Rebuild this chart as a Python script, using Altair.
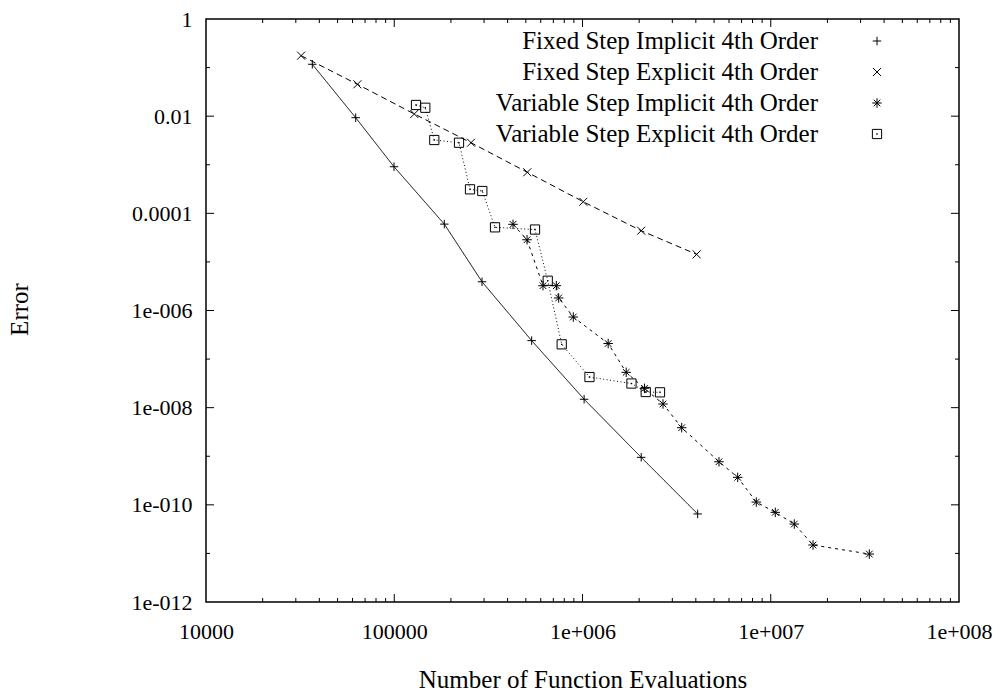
import math
import altair as alt
import pandas as pd

# ---------------- data ----------------
fi_x = [36700, 62400, 99700, 184500, 292600, 537000, 1020000, 2050000, 4090000]
fi_y = [0.117, 9.3e-3, 9.1e-4, 6.0e-5, 3.9e-6, 2.4e-7, 1.49e-8, 9.5e-10, 6.5e-11]

fe_x = [32000, 63700, 127800, 255800, 509000, 1010000, 2050000, 4040000]
fe_y = [0.176, 0.0453, 0.0111, 2.84e-3, 7.0e-4, 1.73e-4, 4.39e-5, 1.43e-5]

vi_x = [427400, 507300, 616700, 725800, 747300, 893600, 1369000, 1707000, 2134000,
        2677000, 3365000, 5310000, 6675000, 8380000, 10570000, 13340000, 16770000, 33390000]
vi_y = [5.94e-5, 2.86e-5, 3.24e-6, 3.24e-6, 1.81e-6, 7.34e-7, 2.09e-7, 5.34e-8, 2.5e-8,
        1.19e-8, 3.87e-9, 7.7e-10, 3.68e-10, 1.14e-10, 7.0e-11, 4.02e-11, 1.49e-11, 9.7e-12]

ve_x = [130500, 146200, 163200, 220800, 252600, 293600, 343000, 559500, 653500,
        775500, 1089000, 1820000, 2167000, 2580000]
ve_y = [0.0170, 0.0149, 3.23e-3, 2.84e-3, 3.12e-4, 2.88e-4, 5.15e-5, 4.64e-5, 4.1e-6,
        2.01e-7, 4.27e-8, 3.14e-8, 2.1e-8, 2.07e-8]

series_names = ["Fixed Step Implicit 4th Order", "Fixed Step Explicit 4th Order",
                "Variable Step Implicit 4th Order", "Variable Step Explicit 4th Order"]

x_major = [1e4, 1e5, 1e6, 1e7, 1e8]
x_major_labels = ["10000", "100000", "1e+006", "1e+007", "1e+008"]
x_minor = [m * 10 ** k for k in range(4, 8) for m in range(2, 10)]
y_major = [1, 1e-2, 1e-4, 1e-6, 1e-8, 1e-10, 1e-12]
y_major_labels = ["1", "0.01", "0.0001", "1e-006", "1e-008", "1e-010", "1e-012"]
y_minor = [1e-1, 1e-3, 1e-5, 1e-7, 1e-9, 1e-11]

# ---------------- styling ----------------
W, H = 753, 583
FONT = "Liberation Serif"
TICK_FS = 22
TEXT_FS = 25
MAJOR, MINOR = 8, 4

PLUS = "M-1,0L1,0M0,-1L0,1"
CROSS = "M-1,-1L1,1M-1,1L1,-1"
STAR = "M-1,0L1,0M0,-1L0,1M-0.7,-0.7L0.7,0.7M-0.7,0.7L0.7,-0.7"
SQUARE = "M-1,-1L1,-1L1,1L-1,1Z"

styles = [
    dict(shape=PLUS, size=72, dash=[1, 0]),
    dict(shape=CROSS, size=64, dash=[6, 4]),
    dict(shape=STAR, size=90, dash=[3, 4]),
    dict(shape=SQUARE, size=85, dash=[1, 2.5]),
]


def label_expr(values, labels):
    expr = "''"
    for v, l in reversed(list(zip(values, labels))):
        expr = f"abs(log(datum.value)/LN10 - ({math.log10(v):.4f})) < 0.01 ? '{l}' : {expr}"
    return expr


xscale = alt.Scale(type="log", domain=[1e4, 1e8], nice=False)
yscale = alt.Scale(type="log", domain=[1e-12, 1], nice=False)

axis_common = dict(ticks=False, tickSize=0, domain=False, grid=False, labelFont=FONT,
                   labelFontSize=TICK_FS, labelColor="black", titleFont=FONT,
                   titleFontSize=TEXT_FS, titleColor="black", titleFontWeight="normal",
                   labelOverlap=False, labelFlush=False)

x_axis = alt.Axis(values=x_major, labelExpr=label_expr(x_major, x_major_labels),
                  title="Number of Function Evaluations", labelPadding=19,
                  titleY=77, titleBaseline="middle", **axis_common)
y_axis = alt.Axis(values=y_major, labelExpr=label_expr(y_major, y_major_labels),
                  title="Error", labelPadding=14, titleX=-187, titleY=290,
                  titleAngle=-90, titleBaseline="middle", titleAlign="center", **axis_common)


def X(field):
    return alt.X(field, scale=xscale, axis=x_axis)


def Y(field):
    return alt.Y(field, scale=yscale, axis=y_axis)


all_x = [fi_x, fe_x, vi_x, ve_x]
all_y = [fi_y, fe_y, vi_y, ve_y]

layers = []
for i, (name, xs, ys, st) in enumerate(zip(series_names, all_x, all_y, styles)):
    df = pd.DataFrame({"x": xs, "y": ys, "idx": list(range(len(xs)))})
    line = alt.Chart(df).mark_line(color="black", strokeWidth=1, strokeDash=st["dash"]).encode(
        x=X("x:Q"), y=Y("y:Q"), order="idx:Q")
    pts = alt.Chart(df).mark_point(shape=st["shape"], size=st["size"], filled=False,
                                   color="black", strokeWidth=1, opacity=1).encode(
        x=X("x:Q"), y=Y("y:Q"))
    layers += [line, pts]
    if i == 3:
        dots = alt.Chart(df).mark_point(shape="square", size=2, filled=True, color="black",
                                        opacity=1).encode(x=X("x:Q"), y=Y("y:Q"))
        layers.append(dots)


# ---------------- inward ticks on all four sides ----------------
def yticks(vals, length):
    df = pd.DataFrame({"y": vals})
    left = alt.Chart(df).mark_rule(color="black", strokeWidth=1).encode(
        y=Y("y:Q"), x=alt.value(0), x2=alt.value(length))
    right = alt.Chart(df).mark_rule(color="black", strokeWidth=1).encode(
        y=Y("y:Q"), x=alt.value(W), x2=alt.value(W - length))
    return [left, right]


def xticks(vals, length):
    df = pd.DataFrame({"x": vals})
    bottom = alt.Chart(df).mark_rule(color="black", strokeWidth=1).encode(
        x=X("x:Q"), y=alt.value(H), y2=alt.value(H - length))
    top = alt.Chart(df).mark_rule(color="black", strokeWidth=1).encode(
        x=X("x:Q"), y=alt.value(0), y2=alt.value(length))
    return [bottom, top]


layers += yticks(y_major[1:-1], MAJOR) + yticks(y_minor, MINOR)
layers += xticks(x_major[1:-1], MAJOR) + xticks(x_minor, MINOR)

# ---------------- key (text then sample symbol, top right) ----------------
KEY_TEXT_X, KEY_SYM_X, KEY_Y0, KEY_DY = 612, 671, 22, 31
for i, (name, st) in enumerate(zip(series_names, styles)):
    kdf = pd.DataFrame({"label": [name]})
    ky = KEY_Y0 + KEY_DY * i
    layers.append(alt.Chart(kdf).mark_text(align="right", baseline="middle", font=FONT,
                                           fontSize=TEXT_FS, color="black").encode(
        text="label:N", x=alt.value(KEY_TEXT_X), y=alt.value(ky)))
    layers.append(alt.Chart(kdf).mark_point(shape=st["shape"], size=st["size"],
                                            filled=False, color="black", strokeWidth=1,
                                            opacity=1).encode(
        x=alt.value(KEY_SYM_X), y=alt.value(ky)))
    if i == 3:
        layers.append(alt.Chart(kdf).mark_point(shape="square", size=2, filled=True,
                                                color="black", opacity=1).encode(
            x=alt.value(KEY_SYM_X), y=alt.value(ky)))

chart = alt.layer(*layers).properties(
    width=W, height=H,
    autosize=alt.AutoSizeParams(type="none"),
    padding={"left": 206, "top": 19, "right": 42, "bottom": 90},
    background="white",
).configure_view(stroke="black", strokeWidth=1.5)

chart.save("out.html", embed_options={"renderer": "svg", "actions": False})
